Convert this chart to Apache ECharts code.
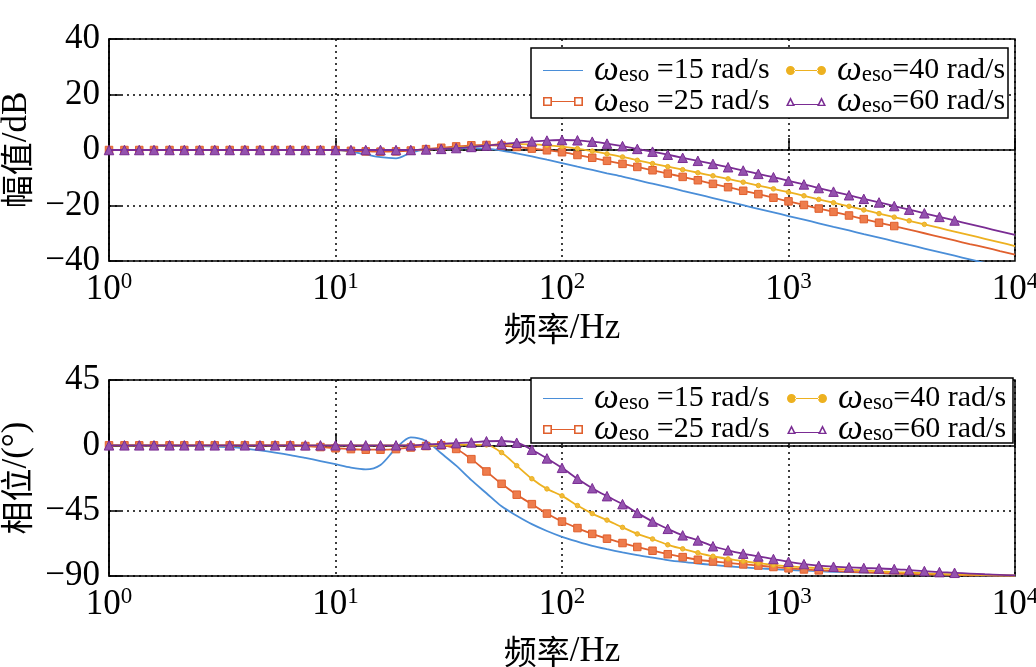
<!DOCTYPE html>
<html><head><meta charset="utf-8">
<script src="https://cdn.jsdelivr.net/npm/echarts@6/dist/echarts.min.js"></script>
<style>html,body{margin:0;padding:0;background:#fff}#c{width:1036px;height:667px}</style>
</head><body><div id="c"></div>
<script>
// ---------------- data ----------------
const freqHz = [1,1.17,1.36,1.58,1.85,2.15,2.51,2.93,3.41,3.98,4.64,5.41,6.31,7.36,8.58,
10,11.7,13.6,15.8,18.5,21.5,25.1,29.3,34.1,39.8,46.4,54.1,63.1,73.6,85.8,
100,117,136,158,185,215,251,293,341,398,464,541,631,736,858,
1000,1170,1360,1580,1850,2150,2510,2930,3410,3980,4640,5410,6310,7360,8580,10000];

const seriesNames = ['ωeso =15 rad/s','ωeso =25 rad/s','ωeso=40 rad/s','ωeso=60 rad/s'];

// magnitude (dB)
const magW15 = [0,0,0,0,0,0,0,0,0,0,0,0,0,0,0,
0,-0.6,-1.6,-2.6,-3.0,-1.0,0.2,0.5,0.6,0.7,0.5,-0.2,-1.2,-2.3,-3.5,
-4.7,-6.0,-7.2,-8.4,-9.6,-10.9,-12.1,-13.4,-14.7,-16.0,-17.3,-18.6,-19.9,-21.2,-22.5,
-23.8,-25.1,-26.4,-27.7,-29.0,-30.3,-31.6,-32.9,-34.2,-35.5,-36.8,-38.1,-39.4,-40.7,-42.0,-43.3];
const magW25 = [0,0,0,0,0,0,0,0,0,0,0,0,0,0,0,
0,-0.3,-0.5,-0.6,-0.5,-0.2,0.3,0.8,1.3,1.7,1.8,1.6,1.1,0.5,-0.1,
-0.8,-1.8,-2.8,-3.9,-5.0,-6.1,-7.3,-8.5,-9.7,-10.9,-12.2,-13.4,-14.7,-15.9,-17.2,
-18.5,-19.8,-21.1,-22.3,-23.6,-24.9,-26.2,-27.4,-28.7,-30.0,-31.3,-32.6,-33.9,-35.1,-36.4,-37.7];
const magW40 = [0,0,0,0,0,0,0,0,0,0,0,0,0,0,0,
0,0,0,0,0,0,0.2,0.5,0.9,1.3,1.7,2.0,2.1,2.0,1.7,
1.2,0.5,-0.4,-1.4,-2.5,-3.7,-4.9,-6.0,-7.1,-8.2,-9.3,-10.4,-11.6,-12.8,-14.0,
-15.2,-16.5,-17.8,-19.0,-20.3,-21.6,-22.9,-24.2,-25.5,-26.8,-28.1,-29.4,-30.7,-32.0,-33.3,-34.6];
const magW60 = [0,0,0,0,0,0,0,0,0,0,0,0,0,0,0,
0,0,0,0,0,0,0.2,0.4,0.7,1.1,1.6,2.1,2.6,3.1,3.4,
3.6,3.5,3.0,2.3,1.4,0.4,-0.6,-1.7,-2.8,-3.9,-5.0,-6.2,-7.4,-8.6,-9.8,
-11.1,-12.4,-13.7,-15.0,-16.3,-17.6,-18.9,-20.2,-21.5,-22.8,-24.1,-25.4,-26.7,-28.0,-29.3,-30.6];

// phase (deg)
const phW15 = [0,0,-0.1,-0.2,-0.3,-0.4,-0.5,-0.8,-1.3,-2.2,-3.5,-5.0,-6.7,-8.7,-10.8,
-13.0,-15.3,-16.5,-13.5,-2.0,5.5,3.0,-5.5,-14,-24,-33,-42,-48.5,-54.3,-59,
-63,-66.3,-69.2,-71.5,-73.7,-75.6,-77.3,-79.0,-80.3,-81.4,-82.4,-83.3,-84.0,-84.7,-85.3,
-85.8,-86.3,-86.7,-87.1,-87.4,-87.7,-88.0,-88.3,-88.5,-88.8,-89.0,-89.2,-89.4,-89.6,-89.7,-89.8];
const phW25 = [0,0,0,0,0,0,0,0,0,0,0,0,0,-0.5,-1.2,
-2.0,-2.6,-3.0,-3.0,-2.6,-1.5,-0.5,0,-2.5,-9.5,-18,-26.5,-34,-40.5,-47,
-52.5,-57,-61,-64.3,-67.3,-70,-72.6,-75,-77,-78.8,-80,-81,-82,-82.8,-83.8,
-84.7,-85.5,-86.1,-86.6,-87.1,-87.5,-87.9,-88.3,-88.6,-88.9,-89.1,-89.3,-89.5,-89.6,-89.7,-89.8];
const phW40 = [0,0,0,0,0,0,0,0,0,0,0,0,0,0,0,
0,0,0,0,0,0,0,0,0.3,0.5,0.3,-5,-14,-23,-30,
-34.8,-41.5,-47,-51.5,-56.5,-61,-64.5,-68.5,-71.3,-74,-76.4,-78.2,-79.8,-81.2,-82.4,
-83.3,-84,-84.6,-85.1,-85.6,-86.2,-86.8,-87.3,-87.7,-88.1,-88.5,-88.8,-89.1,-89.3,-89.5,-89.7];
const phW60 = [0,0,0,0,0,0,0,0,0,0,0,0,0,0,0,
0,0,0,0,0,0,0.5,1,1.5,2,2.8,3,1.8,-3,-9,
-15.5,-23,-29.5,-35,-40.5,-46.5,-52.5,-57.5,-62,-65.5,-69.5,-72.3,-74.6,-76.5,-78.3,
-80.2,-81.8,-82.9,-83.6,-84,-84.5,-84.8,-85.2,-85.9,-86.6,-87.3,-87.8,-88.3,-88.8,-89.2,-89.6];

const magTicks = [-40,-20,0,20,40];
const phaseTicks = [-90,-45,0,45];

// ---------------- styles ----------------
const SERIF = "'Liberation Serif','Times New Roman',serif";
const CJK = "'Noto Sans CJK SC',sans-serif";
const styles = [
  {color:'#4A8ED8', symbol:'none', size:0, fill:'#4A8ED8'},
  {color:'#E0602E', symbol:'rect', size:7.5, fill:'#EE7C4C'},
  {color:'#EDB120', symbol:'circle', size:4.5, fill:'#F1BB3A'},
  {color:'#7A2C93', symbol:'triangle', size:9.5, fill:'#9452AE'}
];
const markerEndTop = [0, 52, 54, 56];
const markerEndBot = [0, 47, 50, 56];

const icons = [
  'path://M0,4.0h40v1.2h-40z',
  'path://M0,0h9v9h-9z M1.6,1.6v5.8h5.8v-5.8z M31,0h9v9h-9z M32.6,1.6v5.8h5.8v-5.8z M9,3.9h22v1.2h-22z',
  'path://M0,4.5a4.5,4.5 0 1,0 9,0a4.5,4.5 0 1,0 -9,0z M31,4.5a4.5,4.5 0 1,0 9,0a4.5,4.5 0 1,0 -9,0z M8,3.9h24v1.2h-24z',
  'path://M0,9L4.5,0L9,9z M2.4,7.7L6.6,7.7L4.5,3.4z M31,9L35.5,0L40,9z M33.4,7.7L37.6,7.7L35.5,3.4z M8,6.9h24v1.2h-24z'
];

function lineSeries(vals, i, gi, end) {
  const st = styles[i];
  return {
    name: seriesNames[i], type:'line', xAxisIndex:gi, yAxisIndex:gi,
    data: freqHz.map((f,k)=>[f, vals[k]]),
    smooth: 0.3,
    showSymbol: st.symbol !== 'none', showAllSymbol: true,
    symbol: (v, p) => (st.symbol === 'none' || p.dataIndex > end[i]) ? 'none' : st.symbol,
    symbolSize: st.size,
    lineStyle: {color: st.color, width: 1.8},
    itemStyle: {color: st.fill, borderColor: st.color, borderWidth: 1},
    emphasis: {disabled: true}, animation: false, clip: true, z: 2 + i
  };
}

const nameRich = {c:{fontFamily:CJK, fontSize:33, color:'#000'}, l:{fontFamily:SERIF, fontSize:35, color:'#000'}};
function xAxisCfg(gi, gap) {
  return {
    type:'log', logBase:10, min:1, max:10000, gridIndex:gi,
    name:'{c|频率}{l|/Hz}', nameLocation:'middle', nameGap: gap,
    nameTextStyle:{rich:nameRich},
    axisLine:{show:true, lineStyle:{color:'#000', width:1.5}},
    axisTick:{show:true, inside:true, length:12, lineStyle:{color:'#000', width:1.5}},
    minorTick:{show:false},
    splitLine:{show:true, lineStyle:{color:'#000', width:1.5, type:[2,4]}},
    axisLabel:{
      margin: 9, color:'#000',
      formatter: v => '{b|10}{s|' + Math.round(Math.log10(v)) + '}',
      rich:{b:{fontFamily:SERIF, fontSize:35, color:'#000'}, s:{fontFamily:SERIF, fontSize:23, color:'#000', padding:[0,0,17,0]}}
    }
  };
}
function yAxisCfg(gi, ticks, name) {
  return {
    type:'value', gridIndex:gi, min:ticks[0], max:ticks[ticks.length-1], interval: ticks[1]-ticks[0],
    name: name, nameLocation:'middle', nameGap: 71, nameRotate: 90,
    nameTextStyle:{rich:nameRich},
    axisLine:{show:true, onZero:false, lineStyle:{color:'#000', width:1.5}},
    axisTick:{show:true, inside:true, length:12, lineStyle:{color:'#000', width:1.5}},
    splitLine:{show:true, lineStyle:{color:'#000', width:1.5, type:[2,4]}},
    axisLabel:{margin:9, color:'#000', fontFamily:SERIF, fontSize:35,
      formatter: v => v < 0 ? '\u2212' + (-v) : String(v)}
  };
}
// one legend per entry, placed in a 2x2 layout inside a framed box
function legendItem(i, left, top) {
  return {
    left: left, top: top, orient:'horizontal', z: 20,
    itemWidth: 40, itemHeight: 9, padding: 0,
    selectedMode:false,
    data: [{name: seriesNames[i], icon: icons[i], itemStyle:{color: styles[i].color, borderWidth:0}}],
    formatter: n => '{w|ω}{s|eso}{t|' + n.slice(4) + '}',
    textStyle:{lineHeight:20, rich:{
      w:{fontFamily:SERIF, fontStyle:'italic', fontSize:35, color:'#000', lineHeight:20, padding:[0,0,0,6]},
      s:{fontFamily:SERIF, fontSize:23, color:'#000', lineHeight:20, padding:[8,0,0,0]},
      t:{fontFamily:SERIF, fontSize:30, color:'#000', lineHeight:20}
    }}
  };
}
function legendGroup(row1, row2, col2) {
  return [legendItem(0, 543, row1), legendItem(2, col2, row1), legendItem(1, 543, row2), legendItem(3, col2, row2)];
}

const chart = echarts.init(document.getElementById('c'), null, {renderer:'canvas'});
chart.setOption({
  animation:false, backgroundColor:'#fff',
  grid:[
    {left:109, right:21, top:39, height:222, show:true, borderColor:'#000', borderWidth:1.5, backgroundColor:'transparent', containLabel:false, outerBoundsMode:'none'},
    {left:109, right:21, top:380, height:196, show:true, borderColor:'#000', borderWidth:1.5, backgroundColor:'transparent', containLabel:false, outerBoundsMode:'none'}
  ],
  xAxis:[xAxisCfg(0, 50), xAxisCfg(1, 58)],
  yAxis:[yAxisCfg(0, magTicks, '{c|幅值}{l|/dB}'), yAxisCfg(1, phaseTicks, '{c|相位}{l|/(°)}')],
  legend:[].concat(legendGroup(53, 84, 786), legendGroup(381, 412, 787)),
  graphic:[
    {type:'rect', z:10, shape:{x:531, y:48, width:477, height:70}, style:{fill:'#fff', stroke:'#000', lineWidth:1.5}},
    {type:'rect', z:10, shape:{x:531, y:378, width:482, height:65}, style:{fill:'#fff', stroke:'#000', lineWidth:1.5}}
  ],
  series:[
    lineSeries(magW15,0,0,markerEndTop), lineSeries(magW25,1,0,markerEndTop),
    lineSeries(magW40,2,0,markerEndTop), lineSeries(magW60,3,0,markerEndTop),
    lineSeries(phW15,0,1,markerEndBot), lineSeries(phW25,1,1,markerEndBot),
    lineSeries(phW40,2,1,markerEndBot), lineSeries(phW60,3,1,markerEndBot)
  ]
});
</script></body></html>
